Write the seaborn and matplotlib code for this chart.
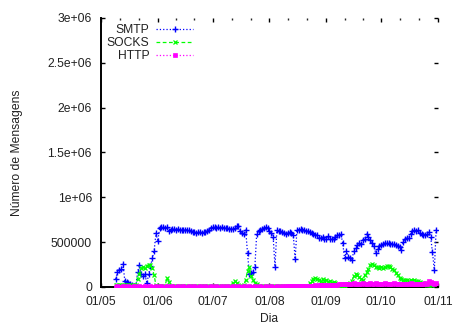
import numpy as np
import pandas as pd
import matplotlib
matplotlib.use("Agg")
import matplotlib.pyplot as plt
import matplotlib.dates as mdates
from matplotlib.ticker import FuncFormatter, FixedLocator
import seaborn as sns

# Daily message counts (thousands of messages), 09/05/2005 .. 31/10/2005
start_day = "2005-05-09"
end_day = "2005-10-31"

smtp_k = [
    90, 170, 190, 200, 255, 70, 60, 40, 30, 20, 10, 5,
    170, 240, 140, 120, 140, 40, 140, 230, 320, 400, 600, 510,
    660, 670, 665, 660, 665, 620, 630, 645, 650, 640, 645, 640,
    635, 640, 630, 640, 635, 620, 615, 610, 605, 610, 610, 605,
    610, 615, 625, 640, 660, 665, 665, 660, 665, 660, 665, 660,
    660, 655, 650, 645, 650, 655, 675, 680, 625, 600, 590, 640,
    375, 150, 155, 170, 220, 590, 620, 630, 650, 660, 665, 660,
    620, 600, 560, 225, 630, 625, 620, 610, 600, 590, 600, 610,
    600, 580, 310, 640, 640, 645, 640, 635, 620, 620, 610, 600,
    595, 585, 575, 550, 545, 555, 535, 540, 570, 530, 535, 540,
    560, 575, 585, 590, 485, 320, 400, 340, 320, 300, 400, 440,
    470, 490, 480, 520, 540, 590, 560, 520, 490, 460, 375, 420,
    460, 470, 475, 490, 490, 485, 475, 480, 475, 470, 455, 445,
    410, 500, 530, 545, 550, 590, 620, 640, 620, 630, 600, 590,
    585, 580, 590, 610, 555, 385, 190, 640,
]

socks_k = [
    20, 18, 20, 22, 18, 20, 19, 21, 20, 18, 20,
    20, 90, 150, 210, 220, 215, 230, 250, 240, 210, 130, 20,
    15, 15, 15, 15, 15, 100, 60, 15, 15, 15, 15, 15,
    15, 15, 15, 15, 15, 15, 15, 15, 15, 15, 15, 15,
    15, 15, 15, 15, 15, 15, 15, 15, 15, 15, 15, 15,
    15, 15, 15, 15, 15, 50, 70, 50, 25, 15, 15, 20,
    80, 180, 220, 120, 80, 50, 30, 15, 15, 15, 15, 15,
    15, 15, 15, 15, 15, 15, 15, 15, 15, 15, 15, 15,
    15, 15, 15, 15, 15, 15, 15, 15, 15, 15, 15, 40,
    70, 90, 100, 90, 80, 70, 90, 70, 80, 60, 70, 50,
    60, 40, 20, 15, 15, 15, 15, 30, 30, 40, 70, 120,
    150, 130, 110, 90, 80, 130, 170, 200, 240, 255, 240, 225,
    220, 215, 220, 215, 220, 230, 235, 220, 205, 190, 160, 130,
    100, 90, 80, 75, 80, 70, 75, 70, 75, 70, 65, 60,
    50, 40, 30, 20, 20, 20, 20,
]

http_k = [
    5, 6, 5, 5, 6, 5, 5, 6, 5, 5, 6, 5,
    5, 6, 5, 5, 6, 5, 5, 6, 5, 5, 6, 5,
    5, 6, 5, 5, 6, 5, 5, 6, 5, 5, 6, 5,
    5, 6, 5, 5, 6, 5, 5, 6, 5, 5, 6, 5,
    5, 6, 5, 5, 6, 5, 5, 6, 5, 5, 6, 5,
    5, 6, 5, 5, 6, 5, 5, 6, 5, 5, 6, 5,
    5, 6, 5, 5, 6, 5, 5, 6, 5, 5, 6, 5,
    5, 6, 5, 5, 6, 5, 5, 6, 5, 10, 12, 10,
    11, 10, 12, 10, 11, 10, 12, 10, 11, 10, 12, 10,
    15, 20, 15, 20, 18, 15, 20, 18, 15, 20, 18, 15,
    20, 22, 30, 35, 32, 30, 38, 35, 30, 36, 40, 35,
    32, 38, 35, 40, 36, 34, 38, 42, 36, 35, 40, 38,
    35, 32, 36, 40, 35, 38, 34, 36, 40, 35, 32, 38,
    36, 34, 38, 35, 36, 40, 35, 38, 34, 36, 38, 35,
    38, 40, 36, 70, 60, 40, 38, 40,
]

series_names = ["SMTP", "SOCKS", "HTTP"]
series_values = [smtp_k, socks_k, http_k]

y_ticks = [0, 500000, 1000000, 1500000, 2000000, 2500000, 3000000]
month_starts = ["2005-05-01", "2005-06-01", "2005-07-01", "2005-08-01",
                "2005-09-01", "2005-10-01", "2005-11-01"]

days = pd.date_range(start_day, end_day, freq="D")
frames = []
for name, vals in zip(series_names, series_values):
    frames.append(pd.DataFrame({"Dia": days[:len(vals)],
                                "Mensagens": np.array(vals) * 1000.0,
                                "Protocolo": name}))
data = pd.concat(frames, ignore_index=True)

sns.set_style("ticks")
plt.rcParams["font.family"] = ["Liberation Sans", "DejaVu Sans"]
plt.rcParams["font.size"] = 8.7

fig = plt.figure(figsize=(4.55, 3.29), dpi=100)
ax = fig.add_axes([0.222, 0.1277, 0.7406, 0.8176])

styles = {
    "SMTP": dict(color="#0000ff", marker="+", linestyle=":", markersize=5,
                 markeredgewidth=1.0, markeredgecolor="#0000ff", linewidth=0.9),
    "SOCKS": dict(color="#00ff00", marker="x", linestyle=(0, (3, 2)), markersize=3.5,
                  markeredgewidth=0.9, markeredgecolor="#00ff00", linewidth=0.9),
    "HTTP": dict(color="#ff00ff", marker="s", linestyle=":", markersize=2.6,
                 markeredgewidth=0.5, markeredgecolor="#ff00ff", linewidth=0.9),
}

for name in series_names:
    sub = data[data["Protocolo"] == name]
    sns.lineplot(data=sub, x="Dia", y="Mensagens", ax=ax, label=name,
                 estimator=None, sort=False, **styles[name])

ax.set_xlim(pd.Timestamp(month_starts[0]), pd.Timestamp(month_starts[-1]))
ax.set_ylim(0, 3000000)

major_x = [mdates.date2num(pd.Timestamp(m)) for m in month_starts]
minor_x = []
for a, b in zip(major_x[:-1], major_x[1:]):
    minor_x += [a + (b - a) / 3.0, a + 2.0 * (b - a) / 3.0]
ax.xaxis.set_major_locator(FixedLocator(major_x))
ax.xaxis.set_minor_locator(FixedLocator(minor_x))
ax.xaxis.set_major_formatter(mdates.DateFormatter("%d/%m"))

ax.yaxis.set_major_locator(FixedLocator(y_ticks))
ax.yaxis.set_major_formatter(FuncFormatter(lambda v, p: "%g" % v))

for side in ["top", "right"]:
    ax.spines[side].set_visible(False)
for side in ["left", "bottom"]:
    ax.spines[side].set_linewidth(1.4)
    ax.spines[side].set_color("black")
    ax.spines[side].set_zorder(1)

ax.tick_params(axis="both", which="major", direction="in", length=3.2, width=1.0,
               top=True, right=True, labelsize=8.7, colors="black", pad=6.5)
ax.tick_params(axis="both", which="minor", direction="in", length=1.6, width=1.0,
               top=True, right=True)
ax.tick_params(axis="y", which="minor", left=False, right=False)
for lbl in ax.get_xticklabels() + ax.get_yticklabels():
    lbl.set_color("#222222")

ax.set_xlabel("Dia", fontsize=8.7, color="#222222")
ax.set_ylabel("Número de Mensagens", fontsize=8.7, color="#222222")
ax.xaxis.set_label_coords(0.5, -0.095)
ax.yaxis.set_label_coords(-0.232, 0.5)

leg = ax.legend(loc="upper left", bbox_to_anchor=(-0.005, 1.005), frameon=False,
                markerfirst=False, handlelength=3.0, handletextpad=0.6,
                labelspacing=0.1, borderaxespad=0.2, fontsize=8.7)
for t in leg.get_texts():
    t.set_color("#222222")

fig.savefig("out.png", dpi=100)
